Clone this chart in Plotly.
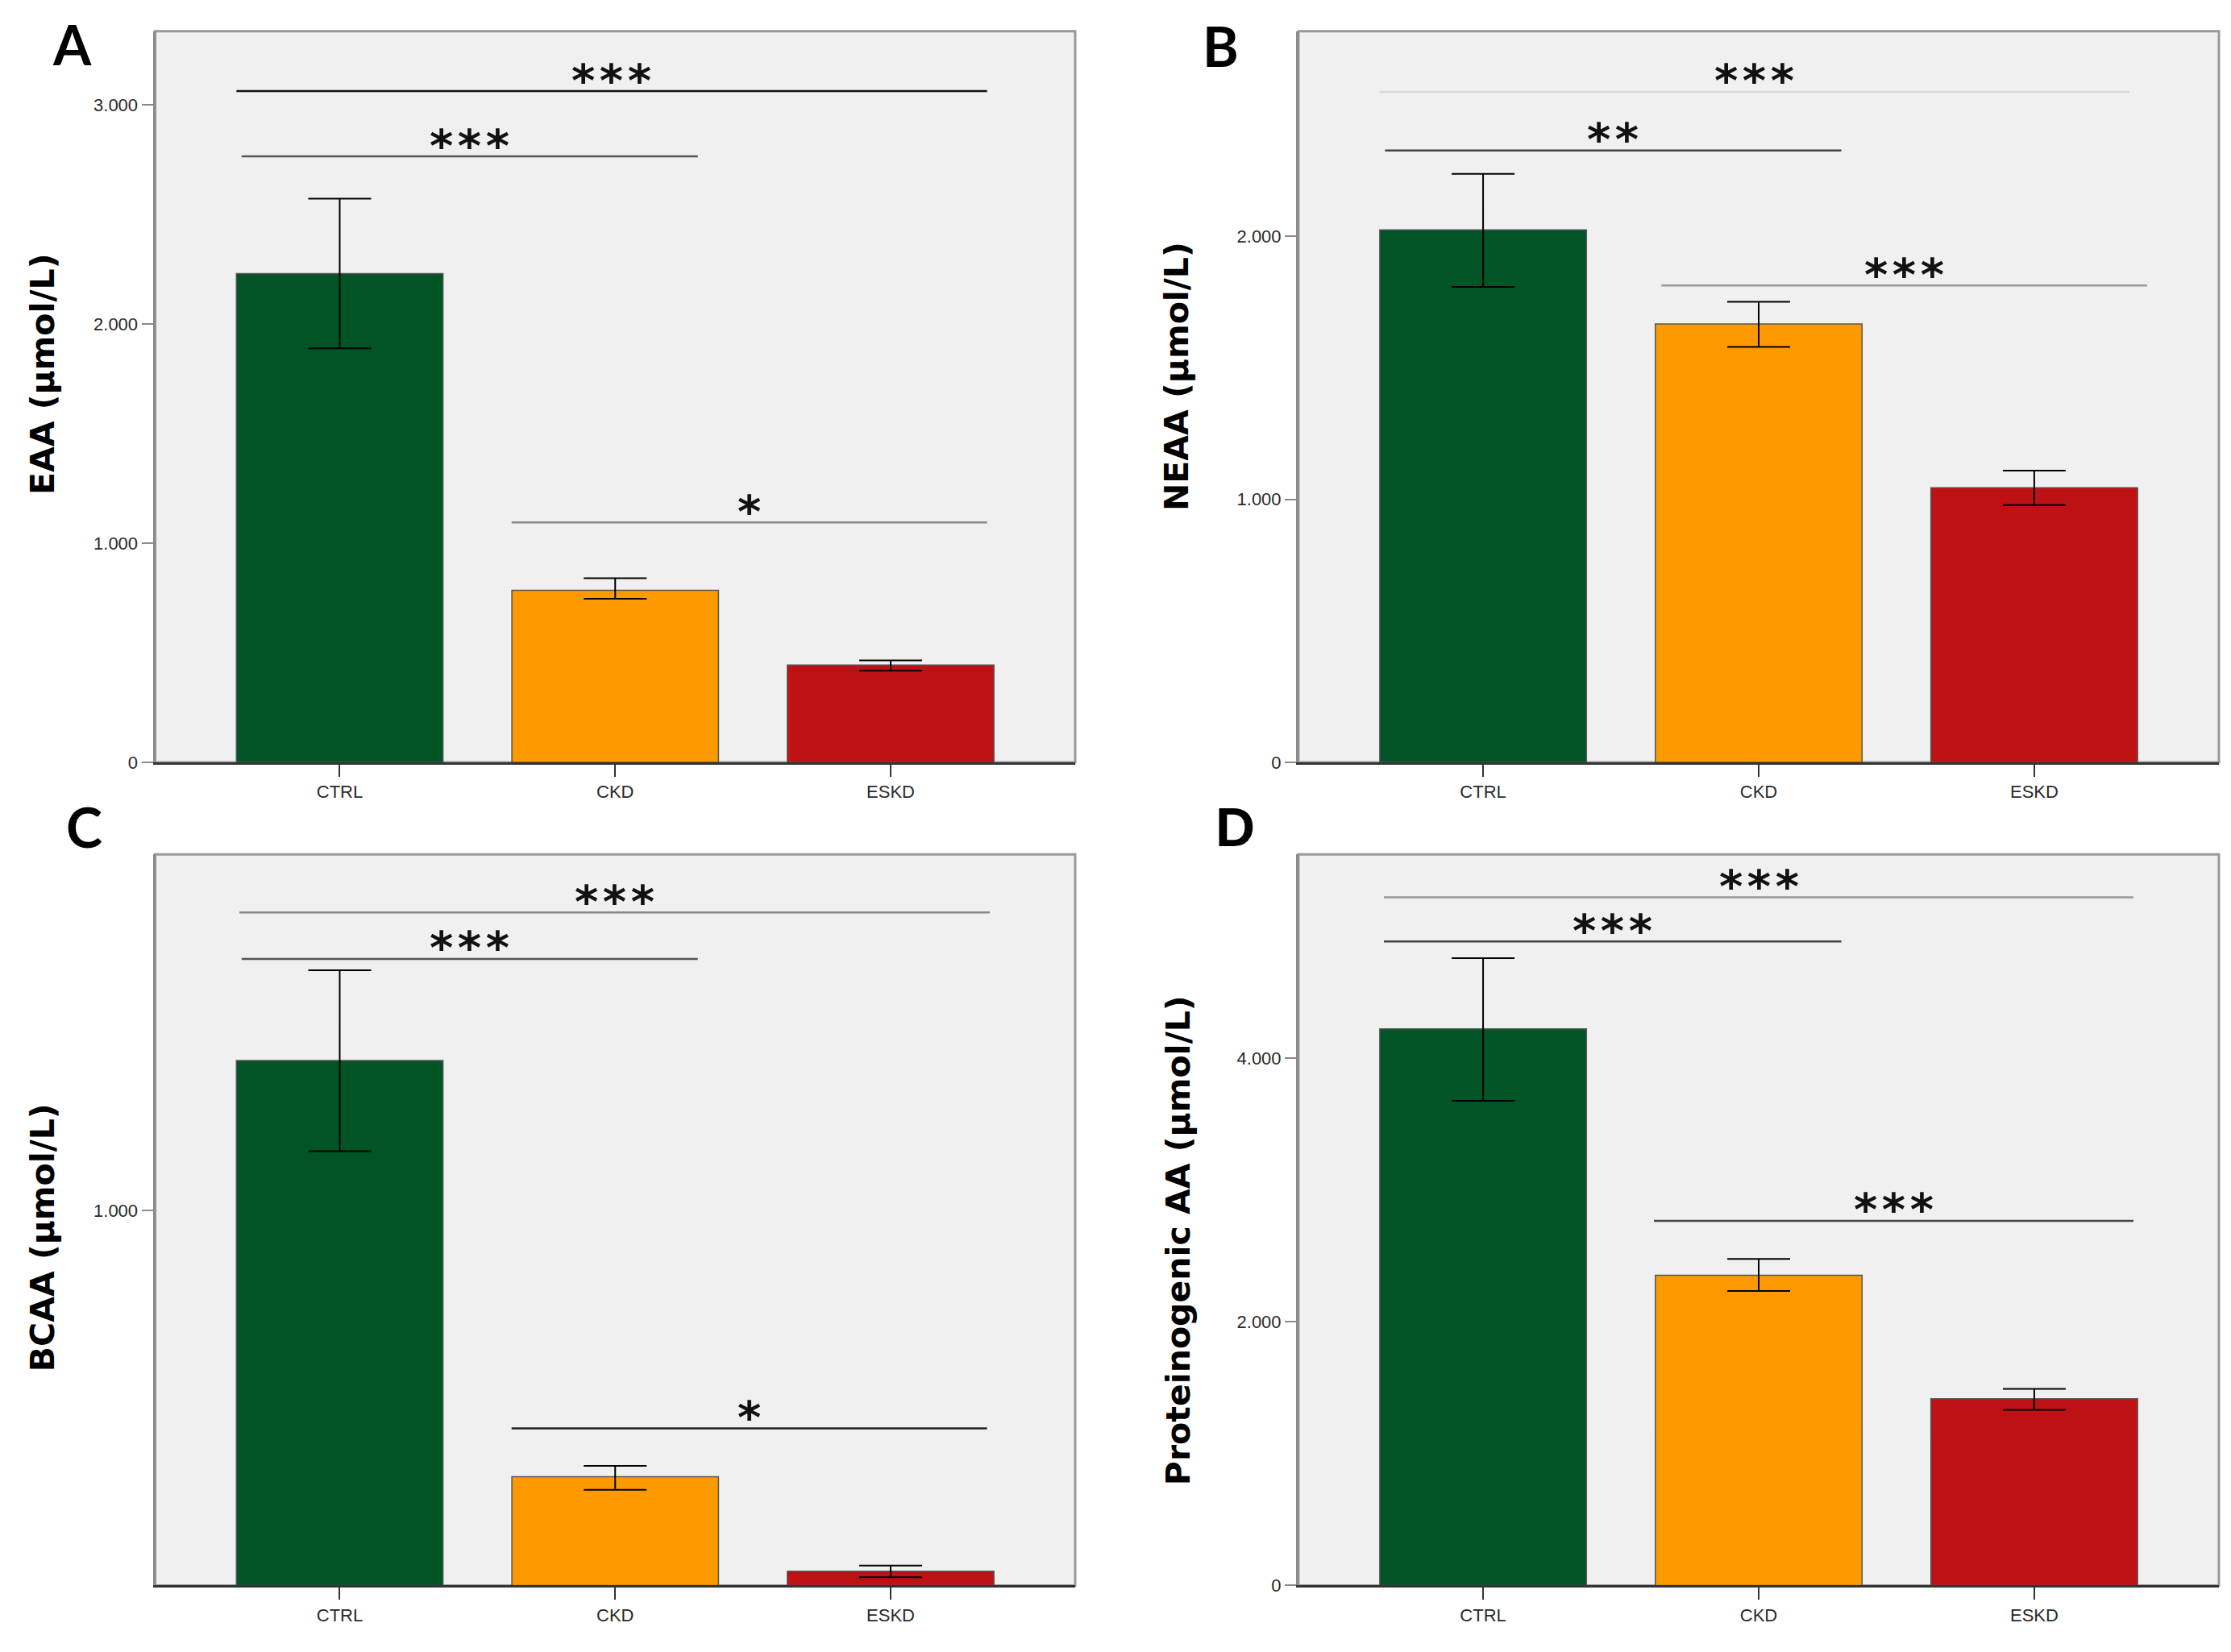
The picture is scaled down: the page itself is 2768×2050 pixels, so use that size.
import plotly.graph_objects as go
from plotly.subplots import make_subplots

# groups and colours
groups = ["CTRL", "CKD", "ESKD"]
bar_colors = ["#005426", "#FF9900", "#BE1114"]

# A - essential amino acids (umol/L): mean and error bar ends
eaa_mean = [2231, 785, 444]
eaa_upper = [2573, 840, 465]
eaa_lower = [1890, 747, 418]

# B - non-essential amino acids
neaa_mean = [2024, 1666, 1044]
neaa_upper = [2237, 1751, 1109]
neaa_lower = [1807, 1579, 978]

# C - branched chain amino acids
bcaa_mean = [1401, 290, 38]
bcaa_upper = [1642, 319, 53]
bcaa_lower = [1159, 255, 22]

# D - proteinogenic amino acids
prot_mean = [4223, 2354, 1416]
prot_upper = [4759, 2477, 1491]
prot_lower = [3678, 2235, 1332]

# significance brackets: (from, to, level, stars, line colour)
sig_a = [(-0.375, 2.35, 3064, "***", "#111111"),
         (-0.356, 1.30, 2766, "***", "#555555"),
         (0.624, 2.35, 1095, "*", "#888888")]
sig_b = [(-0.376, 2.345, 2549, "***", "#d9d9d9"),
         (-0.356, 1.30, 2326, "**", "#444444"),
         (0.647, 2.41, 1813, "***", "#999999")]
sig_c = [(-0.364, 2.36, 1796, "***", "#888888"),
         (-0.356, 1.30, 1672, "***", "#555555"),
         (0.624, 2.35, 419, "*", "#222222")]
sig_d = [(-0.36, 2.36, 5221, "***", "#999999"),
         (-0.36, 1.30, 4887, "***", "#444444"),
         (0.62, 2.36, 2767, "***", "#444444")]

panels = [
    ("A", "EAA (µmol/L)", eaa_mean, eaa_upper, eaa_lower, sig_a, 3337, [0, 1000, 2000, 3000]),
    ("B", "NEAA (µmol/L)", neaa_mean, neaa_upper, neaa_lower, sig_b, 2779, [0, 1000, 2000]),
    ("C", "BCAA (µmol/L)", bcaa_mean, bcaa_upper, bcaa_lower, sig_c, 1951, [1000]),
    ("D", "Proteinogenic AA (µmol/L)", prot_mean, prot_upper, prot_lower, sig_d, 5547, [0, 2000, 4000]),
]

# the page body keeps an 8px margin, so the figure is made that much smaller
OFF = 8
W, H = 2768 - 2 * OFF, 2050 - 2 * OFF


def px(x):
    return (x - OFF) / W


def py(y):
    return 1 - (y - OFF) / H


x_dom = [[px(192.5), px(1334)], [px(1611), px(2753)]]
y_dom = [[py(952), py(39)], [py(1980), py(1067)]]
letter_pos = [(89, 55), (1515, 57), (104, 1032), (1532, 1033)]
title_pos = [(53, 468), (1460, 470), (53, 1546), (1462, 1549)]
letter_fonts = ["Lato", "Lato", "Lato", "Liberation Sans"]
tick_font = dict(family="Liberation Sans", size=22, color="#2a2a2a")

fig = make_subplots(rows=2, cols=2)

for i, (letter, ytitle, mean, upper, lower, sigs, ytop, yticks) in enumerate(panels):
    row, col = i // 2 + 1, i % 2 + 1
    fig.add_trace(go.Bar(
        x=groups, y=mean,
        marker=dict(color=bar_colors, line=dict(color="#555555", width=1.5)),
        error_y=dict(type="data", symmetric=False,
                     array=[u - m for u, m in zip(upper, mean)],
                     arrayminus=[m - l for m, l in zip(mean, lower)],
                     color="black", thickness=2, width=39),
        showlegend=False,
    ), row=row, col=col)

    xa = "x" if i == 0 else "x%d" % (i + 1)
    ya = "y" if i == 0 else "y%d" % (i + 1)

    fig.update_xaxes(domain=x_dom[col - 1], range=[-0.67, 2.67],
                     showline=True, linecolor="#333333", linewidth=3,
                     ticks="outside", ticklen=15, tickcolor="#333333", tickwidth=2,
                     showgrid=False, zeroline=False, tickfont=tick_font,
                     row=row, col=col)
    fig.update_yaxes(domain=y_dom[row - 1], range=[0, ytop],
                     tickvals=yticks, tickformat=",d",
                     showline=True, linecolor="#8a8a8a", linewidth=3,
                     ticks="outside", ticklen=14, tickcolor="#8a8a8a", tickwidth=2,
                     showgrid=False, zeroline=False, tickfont=tick_font,
                     row=row, col=col)

    # grey frame round the plot area
    fig.add_shape(type="rect", xref=xa + " domain", yref=ya + " domain",
                  x0=0, x1=1, y0=0, y1=1, layer="below",
                  line=dict(color="#999999", width=3))

    for x0, x1, lvl, stars, lc in sigs:
        fig.add_shape(type="line", xref=xa, yref=ya, x0=x0, x1=x1, y0=lvl, y1=lvl,
                      line=dict(color=lc, width=2.5))
        fig.add_annotation(xref=xa, yref=ya, x=(x0 + x1) / 2, y=lvl,
                           text="<b>%s</b>" % "\u200a".join(stars), showarrow=False,
                           yanchor="middle", yshift=14,
                           font=dict(family="DejaVu Sans", size=56, color="#111111"))

    lx, ly = letter_pos[i]
    fig.add_annotation(xref="paper", yref="paper", x=px(lx), y=py(ly),
                       text="<b>%s</b>" % letter, showarrow=False,
                       xanchor="center", yanchor="middle",
                       font=dict(family=letter_fonts[i], size=68, color="black"))

    tx, ty = title_pos[i]
    fig.add_annotation(xref="paper", yref="paper", x=px(tx), y=py(ty),
                       text="<b>%s</b>" % ytitle, showarrow=False, textangle=-90,
                       xanchor="center", yanchor="middle",
                       font=dict(family="DejaVu Sans", size=41, color="black"))

fig.update_layout(
    width=W, height=H,
    margin=dict(l=0, r=0, t=0, b=0),
    paper_bgcolor="white",
    plot_bgcolor="#F0F0F0",
    separators=",.",
    bargap=0.25,
)

fig.write_html("out.html")
